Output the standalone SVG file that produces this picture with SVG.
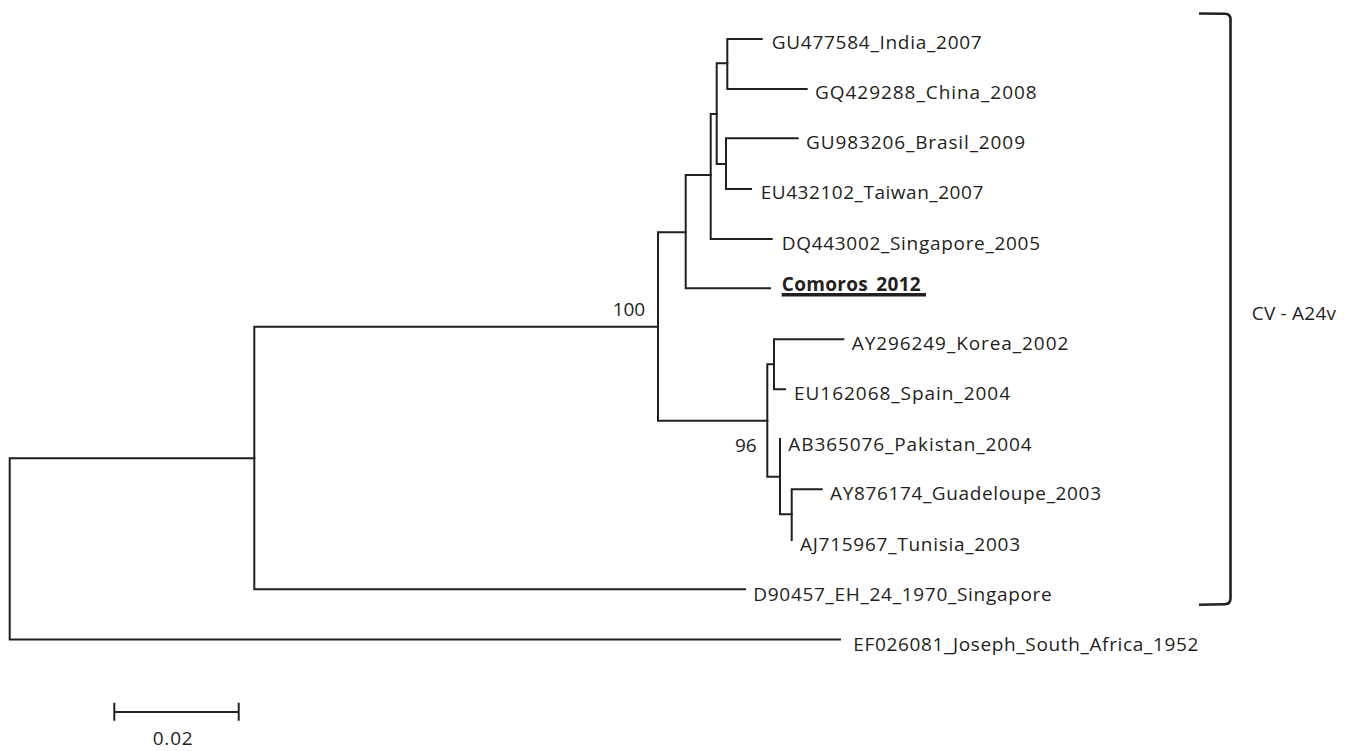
<svg xmlns="http://www.w3.org/2000/svg" width="1350" height="751" viewBox="0 0 1350 751">
<style>
.br{fill:none;stroke:#231f20;stroke-width:2;stroke-linecap:square}
.bk{fill:none;stroke:#231f20;stroke-width:2.6}
.lb{font-family:"Open Sans","Liberation Sans",Arial,sans-serif;font-size:19px;fill:#231f20}
.bd{font-weight:bold}
</style>
<rect width="1350" height="751" fill="#ffffff"/>
<g id="connectors">
<path class="br" d="M254.3,458.3 H9.7 V639.5 H840"/>
<path class="br" d="M658,326.7 H254.3 V589.3 H745"/>
<path class="br" d="M685.7,232.3 H658 V420.7 H767.3"/>
<path class="br" d="M710.7,175 H685.7 V288.3 H770"/>
<path class="br" d="M716.7,114 H710.7 V239 H771.7"/>
<path class="br" d="M727.3,63.3 H716.7 V164 H726"/>
<path class="br" d="M761.7,39 H727.3 V89 H806.7"/>
<path class="br" d="M797.7,138.3 H726 V189 H751"/>
<path class="br" d="M774,364.3 H767.3 V476.7 H780"/>
<path class="br" d="M843.3,339.3 H774 V389.3 H785"/>
<path class="br" d="M780,439 V514.3 H791.7"/>
<path class="br" d="M821.7,489.3 H791.7 V540"/>
</g>
<g id="leaf-GU477584"><text class="lb" x="771.7" y="48.5" textLength="210">GU477584_India_2007</text></g>
<g id="leaf-GQ429288"><text class="lb" x="815" y="99" textLength="221.7">GQ429288_China_2008</text></g>
<g id="leaf-GU983206"><text class="lb" x="806" y="148.5" textLength="219">GU983206_Brasil_2009</text></g>
<g id="leaf-EU432102"><text class="lb" x="760.7" y="199" textLength="222.6">EU432102_Taiwan_2007</text></g>
<g id="leaf-DQ443002"><text class="lb" x="781.7" y="249.5" textLength="258.3">DQ443002_Singapore_2005</text></g>
<g id="leaf-Comoros"><text class="lb bd" x="781.7" y="291" textLength="139">Comoros_2012</text><line x1="781.7" y1="294.8" x2="926" y2="294.8" stroke="#231f20" stroke-width="3.6"/></g>
<g id="leaf-AY296249"><text class="lb" x="851.7" y="350" textLength="216.6">AY296249_Korea_2002</text></g>
<g id="leaf-EU162068"><text class="lb" x="794" y="400" textLength="216">EU162068_Spain_2004</text></g>
<g id="leaf-AB365076"><text class="lb" x="788.3" y="450.5" textLength="243.4">AB365076_Pakistan_2004</text></g>
<g id="leaf-AY876174"><text class="lb" x="830" y="500" textLength="271">AY876174_Guadeloupe_2003</text></g>
<g id="leaf-AJ715967"><text class="lb" x="800" y="550.5" textLength="220">AJ715967_Tunisia_2003</text></g>
<g id="leaf-D90457"><text class="lb" x="753.3" y="600.5" textLength="298.4">D90457_EH_24_1970_Singapore</text></g>
<g id="leaf-EF026081"><text class="lb" x="853.3" y="651" textLength="345">EF026081_Joseph_South_Africa_1952</text></g>
<g id="support-100"><text class="lb" x="612.7" y="316" textLength="32.3">100</text></g>
<g id="support-96"><text class="lb" x="735" y="451.5" textLength="21.7">96</text></g>
<g id="clade-bracket">
<path class="bk" d="M1199,13.5 L1225,13.8 Q1230.5,14 1230.5,19.5 V598.5 Q1230.5,604 1225,604.2 L1199,604.7"/>
<text class="lb" x="1251.7" y="319.5" textLength="84.3">CV - A24v</text>
</g>
<g id="scale-bar">
<path class="br" d="M114.3,712 H238.7 M114.3,702.7 V720.7 M238.7,702.7 V720.7" style="stroke-linecap:butt"/>
<text class="lb" x="152.7" y="745" textLength="40">0.02</text>
</g>
</svg>
